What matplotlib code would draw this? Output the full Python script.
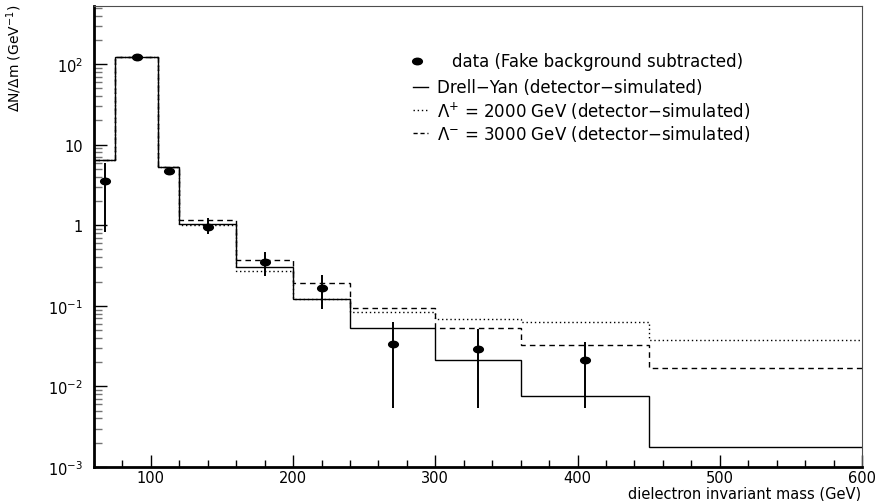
import numpy as np
import matplotlib
matplotlib.use("Agg")
import matplotlib.pyplot as plt
from matplotlib.path import Path
from matplotlib.transforms import Affine2D

# bins of the histograms (GeV)
edges = [60, 75, 105, 120, 160, 200, 240, 300, 360, 450, 600]
drell_yan = [6.4, 122, 5.3, 1.05, 0.30, 0.123, 0.053, 0.021, 0.0077, 0.00178]
lam_plus = [6.4, 122, 5.3, 1.0, 0.27, 0.12, 0.085, 0.069, 0.063, 0.038]
lam_minus = [6.4, 122, 5.3, 1.15, 0.37, 0.194, 0.094, 0.053, 0.033, 0.017]

# data points
data_x = [67.5, 90, 112.5, 140, 180, 220, 270, 330, 405]
data_y = [3.5, 122, 4.7, 0.95, 0.35, 0.168, 0.034, 0.029, 0.0213]
data_lo = [0.82, 118, 4.2, 0.77, 0.235, 0.092, 0.0054, 0.0054, 0.0054]
data_hi = [6.0, 126, 5.3, 1.22, 0.46, 0.244, 0.063, 0.052, 0.036]

leg_labels = ["data (Fake background subtracted)",
              "Drell\u2212Yan (detector\u2212simulated)",
              "$\\Lambda^{+}$ = 2000 GeV (detector\u2212simulated)",
              "$\\Lambda^{-}$ = 3000 GeV (detector\u2212simulated)"]

y_tick_vals = [1e-3, 1e-2, 1e-1, 1, 10, 100]
y_tick_labels = ["10$^{-3}$", "10$^{-2}$", "10$^{-1}$", "1", "10", "10$^{2}$"]

plt.rcParams['font.family'] = ['DejaVu Sans']
plt.rcParams['mathtext.fontset'] = 'dejavusans'

fig = plt.figure(figsize=(8.81, 5.02), dpi=100)
ax = fig.add_axes([94/881, 34/502, 768/881, 461/502])

# elliptical marker, wider than tall
ell = Path.unit_circle().transformed(Affine2D().scale(1.5, 1.0))

ax.stairs(drell_yan, edges, baseline=None, color='black', lw=1.0)
ax.stairs(lam_plus, edges, baseline=None, color='black', lw=1.0, ls=(0, (1, 2)))
ax.stairs(lam_minus, edges, baseline=None, color='black', lw=1.0, ls=(0, (4, 3)))

dy = np.array(data_y)
yerr = [dy - np.array(data_lo), np.array(data_hi) - dy]
ax.errorbar(data_x, data_y, yerr=yerr, fmt='none', ecolor='black', elinewidth=1.4)
ax.plot(data_x, data_y, ls='none', marker=ell, ms=7, color='black')

ax.set_yscale('log')
ax.set_xlim(60, 600)
ax.set_ylim(1e-3, 525)

ax.set_xticks([100, 200, 300, 400, 500, 600])
ax.set_xticks(np.arange(60, 600, 20), minor=True)
ax.set_yticks(y_tick_vals)
ax.set_yticklabels(y_tick_labels)
ax.tick_params(axis='both', which='major', direction='in', length=9, width=1.0, labelsize=10.5)
ax.tick_params(axis='x', which='minor', direction='in', length=5, width=1.0)
ax.tick_params(axis='y', which='minor', direction='in', length=6, width=1.0, color='0.45')
ax.tick_params(axis='y', which='major', pad=8)
ax.tick_params(axis='x', which='major', pad=2)

ax.spines['left'].set_linewidth(2.0)
ax.spines['bottom'].set_linewidth(2.0)
ax.spines['top'].set_linewidth(0.8)
ax.spines['right'].set_linewidth(0.8)
ax.spines['top'].set_color('0.3')
ax.spines['right'].set_color('0.3')

fig.text(861/881, 1 - 494/502, "dielectron invariant mass (GeV)", ha='right', va='center',
         fontsize=10.5)
fig.text(14/881, 1 - 58/502, "$\\Delta$N/$\\Delta$m (GeV$^{-1}$)", rotation=90,
         ha='center', va='center', fontsize=10)

# legend drawn by hand
def ax_xy(px, py):
    return (px - 94) / 768.0, (468 - py) / 461.0

rows = [62, 88, 111, 134]
x0, y0 = ax_xy(417, rows[0])
ax.plot([x0], [y0], marker=ell, ms=7, color='black', transform=ax.transAxes, ls='none')
xt, yt = ax_xy(452, rows[0])
ax.text(xt, yt, leg_labels[0], transform=ax.transAxes, va='center', fontsize=12)
styles = ['-', (0, (1, 2)), (0, (3, 2))]
for i in range(3):
    xa, ya = ax_xy(413, rows[i+1])
    xb, _ = ax_xy(428, rows[i+1])
    ax.plot([xa, xb], [ya, ya], color='black', lw=1.0, ls=styles[i], transform=ax.transAxes)
    xt, yt = ax_xy(437, rows[i+1])
    ax.text(xt, yt, leg_labels[i+1], transform=ax.transAxes, va='center', fontsize=12)

fig.savefig("out.png", dpi=100)
